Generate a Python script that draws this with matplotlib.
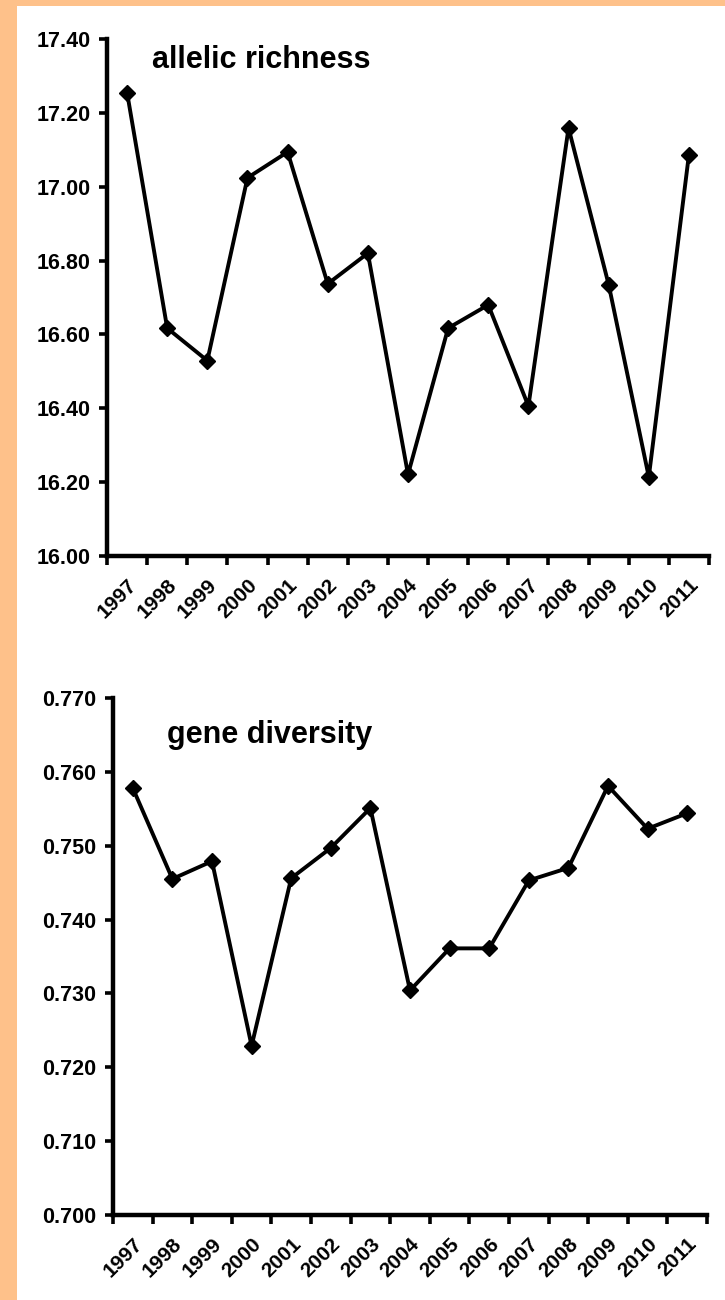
import numpy as np
import matplotlib
matplotlib.use("Agg")
import matplotlib.pyplot as plt
from matplotlib.patches import Rectangle

years = ["1997", "1998", "1999", "2000", "2001", "2002", "2003", "2004",
         "2005", "2006", "2007", "2008", "2009", "2010", "2011"]
allelic_richness = [17.255, 16.617, 16.529, 17.024, 17.094, 16.737, 16.820, 16.221,
                    16.617, 16.680, 16.406, 17.159, 16.735, 16.214, 17.087]
gene_diversity = [0.7578, 0.7455, 0.7479, 0.7229, 0.7456, 0.7497, 0.7551, 0.7304,
                  0.7361, 0.7361, 0.7453, 0.7470, 0.7581, 0.7523, 0.7544]
ar_ticks = [16.00, 16.20, 16.40, 16.60, 16.80, 17.00, 17.20, 17.40]
gd_ticks = [0.700, 0.710, 0.720, 0.730, 0.740, 0.750, 0.760, 0.770]

plt.rcParams['font.family'] = ['Liberation Sans', 'DejaVu Sans']
plt.rcParams['font.weight'] = 'bold'

W, H = 725, 1300
fig = plt.figure(figsize=(W / 100, H / 100), dpi=100, facecolor='white')

orange = '#FEC18A'
fig.patches.append(Rectangle((0, 0), 17 / W, 1, transform=fig.transFigure,
                             facecolor=orange, edgecolor='none', zorder=0))
fig.patches.append(Rectangle((0, 1 - 6 / H), 1, 6 / H, transform=fig.transFigure,
                             facecolor=orange, edgecolor='none', zorder=0))


def make_panel(rect, values, yticks, fmt, title, tx, ty):
    ax = fig.add_axes(rect)
    ax.set_facecolor('white')
    x = np.arange(len(years))
    ax.plot(x, values, color='black', lw=2.8, marker='D', ms=8.6,
            mfc='black', mec='black', mew=1, clip_on=False, zorder=3)
    ax.set_xlim(-0.5, len(years) - 0.5)
    ax.set_ylim(yticks[0], yticks[-1])
    for s in ['top', 'right']:
        ax.spines[s].set_visible(False)
    for s in ['left', 'bottom']:
        ax.spines[s].set_linewidth(3.2)
    ax.set_yticks(yticks)
    ax.set_yticklabels([fmt % v for v in yticks])
    ax.tick_params(axis='y', direction='out', length=6, width=2.6, pad=6,
                   labelsize=15.5)
    ax.set_xticks(x)
    ax.set_xticklabels(years)
    ax.set_xticks(np.arange(-0.5, len(years), 1.0), minor=True)
    ax.tick_params(axis='x', which='major', length=0, pad=14, labelsize=15)
    ax.tick_params(axis='x', which='minor', direction='out', length=6.5, width=2.6)
    for lab in ax.get_xticklabels():
        lab.set_rotation(45)
        lab.set_ha('right')
        lab.set_va('top')
        lab.set_rotation_mode('anchor')
        lab.set_fontweight('bold')
    for lab in ax.get_yticklabels():
        lab.set_fontweight('bold')
    ax.text(tx, ty, title, transform=ax.transAxes, fontsize=22,
            fontweight='bold', ha='left', va='baseline')
    return ax


make_panel([107 / W, 1 - 556 / H, 602 / W, 517 / H], allelic_richness, ar_ticks,
           '%.2f', 'allelic richness', 0.0748, 0.944)
make_panel([113 / W, 1 - 1215 / H, 594 / W, 517 / H], gene_diversity, gd_ticks,
           '%.3f', 'gene diversity', 0.091, 0.913)

fig.savefig('out.png', dpi=100, facecolor='white')
